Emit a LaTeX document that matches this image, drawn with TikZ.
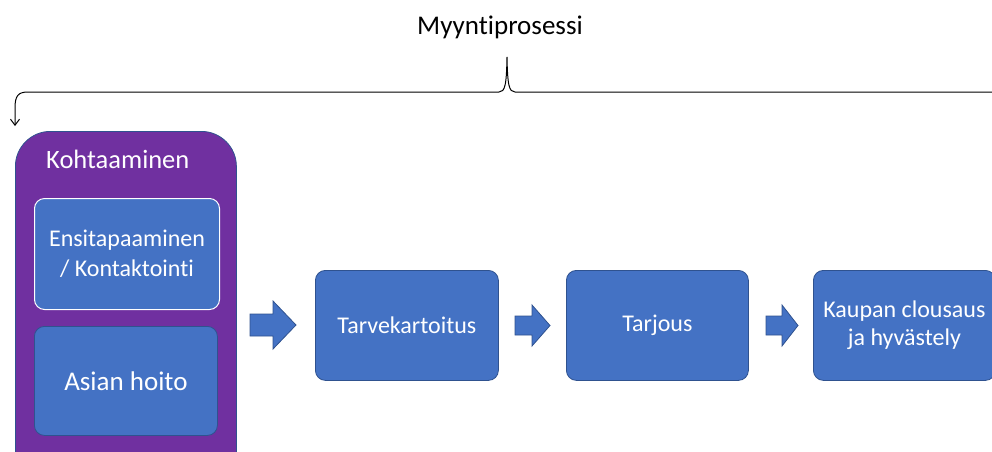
\documentclass[tikz,border=0pt]{standalone}
\usepackage{fontspec}
\setmainfont{Carlito}[Ligatures={NoCommon}]
\usetikzlibrary{arrows.meta}
\definecolor{boxblue}{HTML}{4472C4}
\definecolor{boxedge}{HTML}{2F528F}
\definecolor{phasepurple}{HTML}{7030A0}
\begin{document}
\begin{tikzpicture}[x=1pt,y=-1pt,
  stage/.style={draw=boxedge,fill=boxblue,rounded corners=10pt,line width=0.8pt,
    text=white,align=center,font=\fontsize{24}{28}\selectfont,inner sep=0pt},
  blockarrow/.style={draw=boxedge,fill=boxblue,line width=0.8pt,line join=miter}
]
\useasboundingbox (0,0) rectangle (992,451);
\clip (0,0) rectangle (992,451);

% title and bracket
\node[font=\fontsize{27}{31}\selectfont] (title) at (500,27) {Myyntiprosessi};
\coordinate (bracetip) at (15,126);
\draw[line width=1pt,-{Straight Barb[length=6pt,width=9pt]}]
  (1000,92) -- (515,92) .. controls (509,92) and (507.5,85) .. (507,57)
  .. controls (506.5,85) and (505,92) .. (499,92) -- (28,92)
  .. controls (18,92) and (15,96) .. (15,108) -- (bracetip);

% phase container
\node[draw=boxedge,fill=phasepurple,rounded corners=35pt,line width=0.8pt,
  minimum width=221pt,minimum height=360pt,inner sep=0pt,anchor=north west]
  (phase) at (15,131) {};
\node[text=white,anchor=base west,font=\fontsize{26.5}{30}\selectfont,inner sep=0pt]
  (phasetitle) at (46,168) {Kohtaaminen};

\node[stage,draw=white,line width=1pt,minimum width=185pt,minimum height=111pt,anchor=north west,
  font=\fontsize{24}{30}\selectfont] (first) at (34,198) {Ensitapaaminen\\/ Kontaktointi};
\node[stage,minimum width=183pt,minimum height=109pt,anchor=north west,
  font=\fontsize{27}{31}\selectfont] (handle) at (34,326) {Asian hoito};

% main stages
\node[stage,minimum width=183pt,minimum height=110pt,anchor=north west] (needs) at (315,270) {Tarvekartoitus};
\node[stage,minimum width=182pt,minimum height=110pt,anchor=north west] (offer) at (566,270) {Tarjous};
\node[stage,minimum width=182pt,minimum height=110pt,anchor=north west] (close) at (813,270) {Kaupan clousaus\\ja hyvästely};

% block arrows between stages
\draw[blockarrow] (250,314) -- (273,314) -- (273,301) -- (296,325) -- (273,349) -- (273,336) -- (250,336) -- cycle;
\draw[blockarrow] (515,316) -- (532,316) -- (532,305) -- (550,325.5) -- (532,346) -- (532,335) -- (515,335) -- cycle;
\draw[blockarrow] (766,316) -- (782,316) -- (782,305) -- (798,325.5) -- (782,346) -- (782,335) -- (766,335) -- cycle;
\end{tikzpicture}
\end{document}
